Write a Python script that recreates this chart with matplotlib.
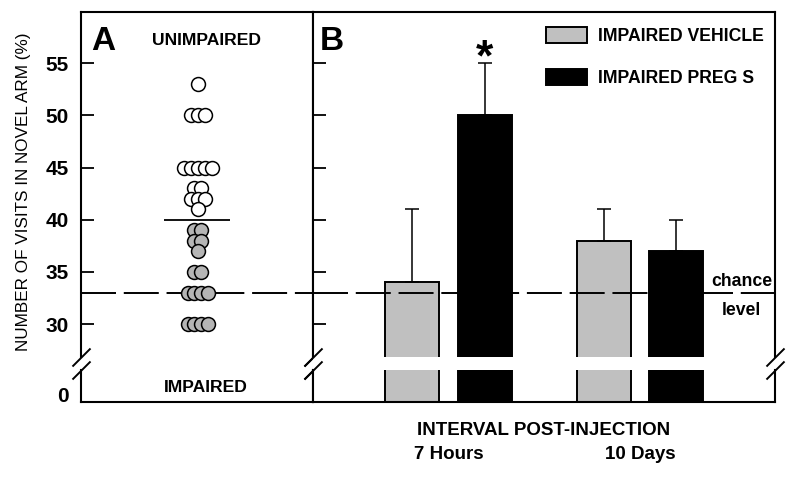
import numpy as np
import matplotlib
matplotlib.use("Agg")
import matplotlib.pyplot as plt

plt.rcParams["font.family"] = ["Liberation Sans", "DejaVu Sans"]

# Panel A : individual scores (% visits in novel arm)
unimpaired = [53, 50, 50, 50, 45, 45, 45, 45, 45, 43, 43, 42, 42, 42, 41]
impaired = [39, 39, 38, 38, 37, 35, 35, 33, 33, 33, 33, 30, 30, 30, 30]
group_mean = 40
chance_level = 33

# Panel B : group means + SEM
intervals = ["7 Hours", "10 Days"]
vehicle_mean = [34, 38]
vehicle_sem = [7, 3]
preg_mean = [50, 37]
preg_sem = [5, 3]
signif = ["*", ""]

yticks = [30, 35, 40, 45, 50, 55]
y_bottom, y_top = 22.55, 59.9
break_lo, break_hi = 25.6, 26.9

SPINE_LW = 1.5
slash = [(-1, -1), (1, 1)]


def swarm_x(values, centre=0.505, step=0.03):
    """ spread equal values side by side around the centre """
    vals = np.asarray(values)
    xs = np.zeros(len(vals))
    for v in np.unique(vals):
        idx = np.where(vals == v)[0]
        xs[idx] = centre + (np.arange(len(idx)) - (len(idx) - 1) / 2) * step
    return xs


def broken_side(ax, xpos):
    """ vertical frame line with a // break """
    tr = ax.get_yaxis_transform()
    ax.plot([xpos, xpos], [break_hi, y_top], color="black", lw=SPINE_LW,
            transform=tr, clip_on=False, zorder=5, solid_capstyle="projecting")
    ax.plot([xpos, xpos], [y_bottom, break_lo], color="black", lw=SPINE_LW,
            transform=tr, clip_on=False, zorder=5, solid_capstyle="projecting")
    ax.plot([xpos, xpos], [break_hi, break_lo], ls="none", marker=slash,
            ms=13, mew=1.4, mec="black", transform=tr, clip_on=False, zorder=6)


fig = plt.figure(figsize=(8, 4.8), dpi=100)
axA = fig.add_axes([0.101, 0.1625, 0.29, 0.8125])
axB = fig.add_axes([0.391, 0.1625, 0.5775, 0.8125])

for ax in (axA, axB):
    ax.set_ylim(y_bottom, y_top)
    ax.set_yticks(yticks)
    ax.tick_params(axis="y", direction="in", length=9.4, width=1.3)
    for side in ("left", "right"):
        ax.spines[side].set_visible(False)
    for side in ("top", "bottom"):
        ax.spines[side].set_linewidth(SPINE_LW)
    ax.axhline(chance_level, color="black", lw=1.4, ls=(0, (18, 4)), zorder=3)
    broken_side(ax, 0)
    broken_side(ax, 1)

# ---- Panel A
axA.set_xlim(0, 1)
axA.set_xticks([])
axA.tick_params(axis="y", labelsize=15, pad=8.6)
plt.setp(axA.get_yticklabels(), fontweight="bold")
axA.annotate("0", xy=(0, y_bottom), xycoords=axA.get_yaxis_transform(),
             xytext=(-8.6, 3.6), textcoords="offset points",
             ha="right", va="center", fontsize=15, fontweight="bold")

axA.plot(swarm_x(unimpaired), unimpaired, "o", ms=10, mfc="white",
         mec="black", mew=1.1, zorder=4)
axA.plot(swarm_x(impaired), impaired, "o", ms=10, mfc="#b5b5b5",
         mec="black", mew=1.1, zorder=4)
axA.hlines(group_mean, 0.358, 0.642, color="black", lw=1.3, zorder=4)

axA.set_ylabel("NUMBER OF VISITS IN NOVEL ARM (%)", fontsize=12.3)
axA.yaxis.set_label_coords(-0.216, 0.538)

axA.text(0.043, 0.9026, "A", transform=axA.transAxes, fontsize=24,
         fontweight="bold", ha="left", va="baseline")
axA.text(0.543, 0.915, "UNIMPAIRED", transform=axA.transAxes, fontsize=12.6,
         fontweight="bold", ha="center", va="baseline")
axA.text(0.539, 0.0256, "IMPAIRED", transform=axA.transAxes, fontsize=12.6,
         fontweight="bold", ha="center", va="baseline")

# ---- Panel B
x = np.arange(len(intervals))
off, w = 0.189, 0.282
axB.set_xlim(-0.708, 1.705)
axB.tick_params(axis="y", labelleft=False)

b1 = axB.bar(x - off, np.array(vehicle_mean) - y_bottom, w, bottom=y_bottom,
             color="#c0c0c0", edgecolor="black", lw=1.4,
             label="IMPAIRED VEHICLE", zorder=2)
b2 = axB.bar(x + off, np.array(preg_mean) - y_bottom, w, bottom=y_bottom,
             color="black", edgecolor="black", lw=1.4,
             label="IMPAIRED PREG S", zorder=2)
axB.errorbar(x - off, vehicle_mean, yerr=[np.zeros(len(x)), vehicle_sem],
             fmt="none", ecolor="black", elinewidth=1.1, capsize=4.7,
             capthick=1.1, zorder=3)
axB.errorbar(x + off, preg_mean, yerr=[np.zeros(len(x)), preg_sem],
             fmt="none", ecolor="black", elinewidth=1.1, capsize=4.7,
             capthick=1.1, zorder=3)
# white gap across the bars at the axis break
axB.axhspan(break_lo, break_hi, color="white", lw=0, zorder=2.6)

for xi, m, s, star in zip(x + off, preg_mean, preg_sem, signif):
    if star:
        axB.annotate(star, xy=(xi, m + s), xytext=(0, -5.5),
                     textcoords="offset points", ha="center", va="baseline",
                     fontsize=32, fontweight="bold")

axB.set_xticks(x, intervals)
axB.tick_params(axis="x", length=0, pad=31.7, labelsize=13.5)
plt.setp(axB.get_xticklabels(), fontweight="bold")
axB.text(0.5, -0.0718, "INTERVAL POST-INJECTION", transform=axB.transAxes,
         ha="center", va="center", fontsize=13.5, fontweight="bold")

axB.legend(handles=[b1, b2], loc="upper left", bbox_to_anchor=(0.504, 0.9615),
           frameon=False, borderpad=0, borderaxespad=0, handlelength=2.33,
           handleheight=1.02, handletextpad=0.63, labelspacing=1.36,
           prop={"weight": "bold", "size": 12.7})

trB = axB.get_yaxis_transform()
axB.text(0.9286, chance_level + 0.67, "chance", transform=trB, ha="center",
         va="baseline", fontsize=12.7, fontweight="bold")
axB.text(0.9286, chance_level - 2.1, "level", transform=trB, ha="center",
         va="baseline", fontsize=12.7, fontweight="bold")

axB.text(0.016, 0.9026, "B", transform=axB.transAxes, fontsize=24,
         fontweight="bold", ha="left", va="baseline")

fig.savefig("out.png", dpi=100)
